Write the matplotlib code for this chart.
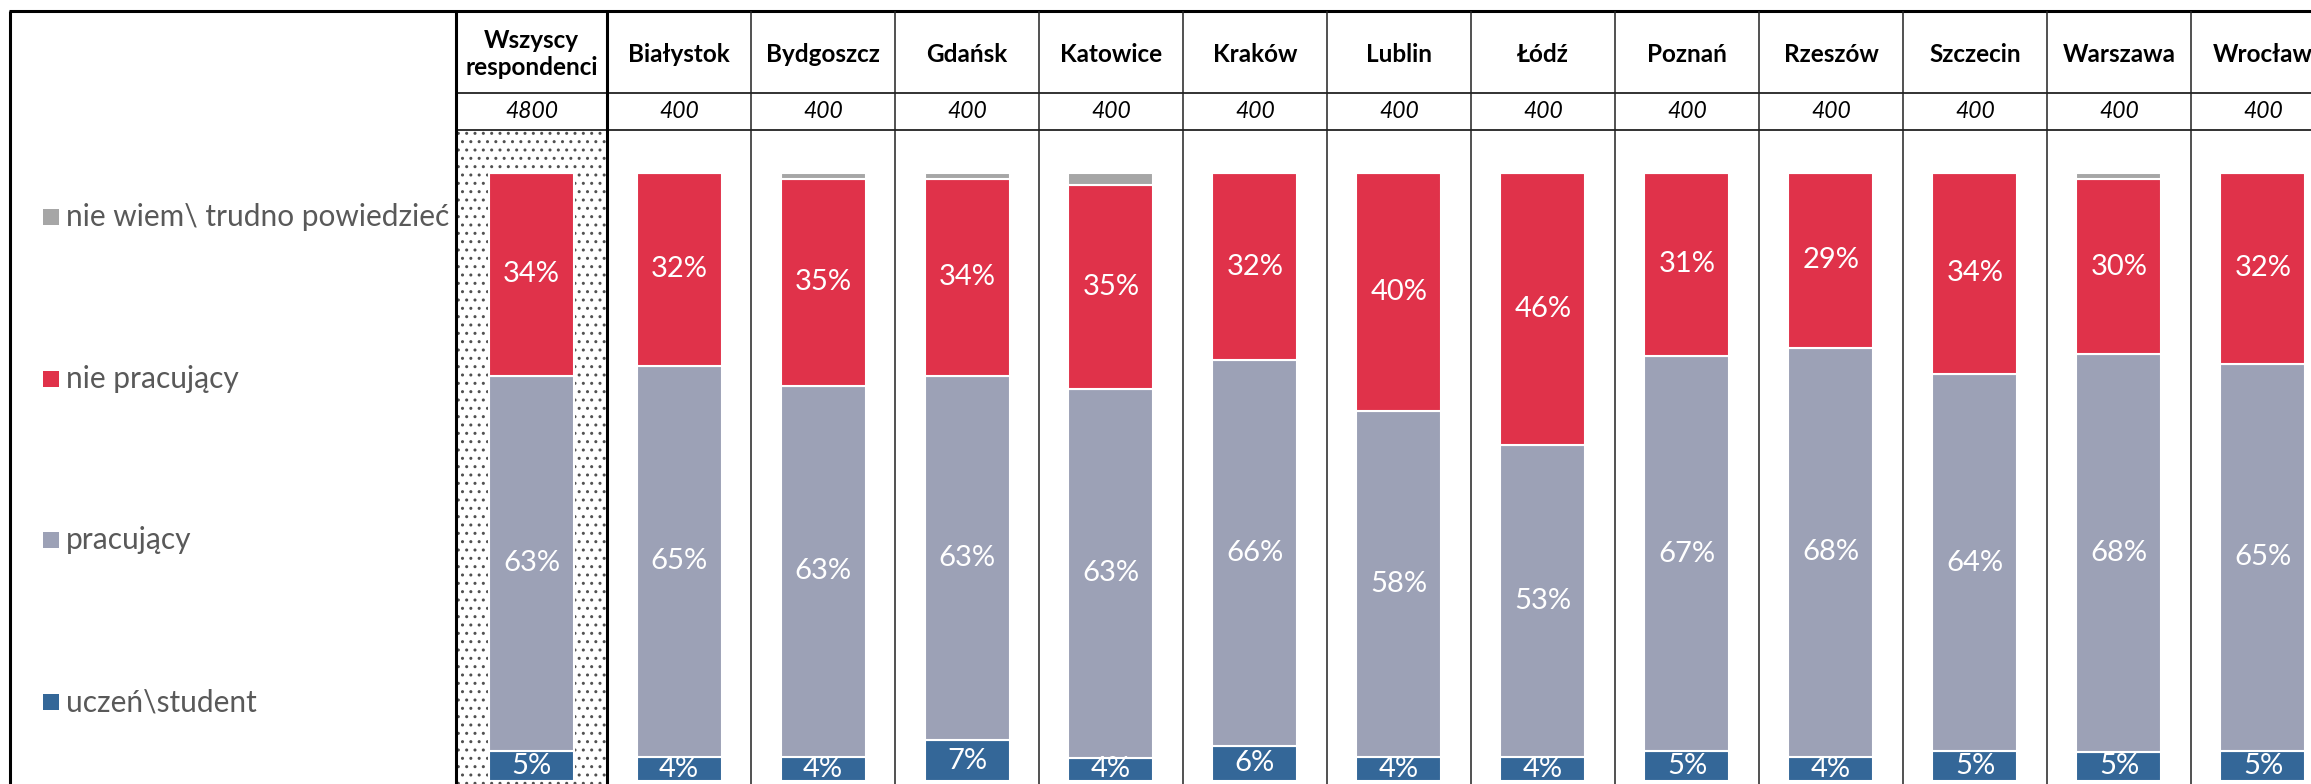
import numpy as np
import matplotlib.pyplot as plt
from matplotlib.patches import Rectangle

plt.rcParams['font.family'] = ['Lato', 'DejaVu Sans']

# dane
groups = ["Wszyscy\nrespondenci", "Białystok", "Bydgoszcz", "Gdańsk", "Katowice", "Kraków",
          "Lublin", "Łódź", "Poznań", "Rzeszów", "Szczecin", "Warszawa", "Wrocław"]
sample_sizes = [4800, 400, 400, 400, 400, 400, 400, 400, 400, 400, 400, 400, 400]
student = [5, 4, 4, 7, 4, 6, 4, 4, 5, 4, 5, 5, 5]
working = [63, 65, 63, 63, 63, 66, 58, 53, 67, 68, 64, 68, 65]
not_working = [34, 32, 35, 34, 35, 32, 40, 46, 31, 29, 34, 30, 32]
dont_know = [0, 0, 1, 1, 2, 0, 0, 0, 0, 0, 0, 1, 0]
series_names = ["uczeń\\student", "pracujący", "nie pracujący", "nie wiem\\ trudno powiedzieć"]
colors = ["#346798", "#9CA1B6", "#E0324A", "#A6A6A6"]

W, H = 2311, 784
fig = plt.figure(figsize=(W / 100, H / 100), dpi=100)

# tabela (wspolrzedne w pikselach)
tab = fig.add_axes([0, 0, 1, 1])
tab.set_xlim(0, W)
tab.set_ylim(H, 0)
tab.axis('off')

col_left = 456
col_w = [151] + [144] * 12
edges = col_left + np.concatenate([[0], np.cumsum(col_w)])
centers = (edges[:-1] + edges[1:]) / 2
top, row1, row2 = 11, 93, 130
bar_top, bar_bottom = 173, 781

# kropkowane tlo kolumny "Wszyscy"
tab.add_patch(Rectangle((edges[0], row2), col_w[0], H - row2, facecolor='white',
                        edgecolor='#505050', hatch='..', linewidth=0, zorder=0))

tab.hlines(top, 9, W, color='black', lw=2.2)
tab.vlines(10, top, H, color='black', lw=2.2)
tab.hlines([row1, row2], col_left, W, color='#222222', lw=1.3)
tab.vlines(edges[:2], top, H, color='black', lw=2.2)
tab.vlines(edges[2:], top, H, color='#222222', lw=1.1)

for c, name, n in zip(centers, groups, sample_sizes):
    tab.text(c, (top + row1) / 2 + 2, name, ha='center', va='center', fontsize=17.5,
             fontweight='bold', linespacing=1.2)
    tab.text(c, (row1 + row2) / 2, str(n), ha='center', va='center', fontsize=16.5,
             style='italic')

# legenda
for k, i in enumerate(range(3, -1, -1)):
    y = 217 + 161.7 * k
    tab.add_patch(Rectangle((43, y - 8), 16, 16, facecolor=colors[i], edgecolor='none'))
    tab.text(66, y, series_names[i], ha='left', va='center', fontsize=21.5, color='#595959')

# slupki 100%
ax = fig.add_axes([col_left / W, 1 - bar_bottom / H, (edges[-1] - col_left) / W,
                   (bar_bottom - bar_top) / H])
ax.set_zorder(2)
ax.patch.set_visible(False)
ax.axis('off')
ax.set_xlim(edges[0], edges[-1])
ax.set_ylim(0, 100)

series = [np.array(student), np.array(working), np.array(not_working), np.array(dont_know)]
totals = sum(series)
bottom = np.zeros(len(groups))
for i, vals in enumerate(series):
    share = vals / totals * 100
    bars = ax.bar(centers, share, width=85, bottom=bottom, color=colors[i],
                  edgecolor='white', linewidth=1.5)
    if i < 3:
        ax.bar_label(bars, labels=[f"{v}%" for v in vals], label_type='center',
                     color='white', fontsize=21)
    bottom += share

plt.savefig("out.png", dpi=100)
